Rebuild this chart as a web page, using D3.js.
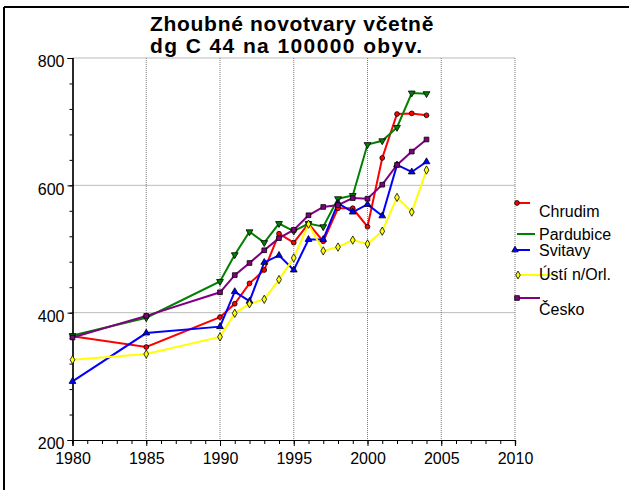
<!DOCTYPE html>
<html>
<head>
<meta charset="utf-8">
<script src="https://cdn.jsdelivr.net/npm/d3@7"></script>
<style>
  body { margin: 0; background: #fff; }
  text { font-family: "Liberation Sans", Arial, sans-serif; }
</style>
</head>
<body>
<div id="chart"></div>
<script>
const w = 629,
      h = 490;

const years = [1980, 1985, 1990, 1991, 1992, 1993, 1994, 1995, 1996, 1997, 1998, 1999, 2000, 2001, 2002, 2003, 2004];
const chrudim    = [363, 346, 393, 414, 446, 467, 524, 510, 540, 512, 564, 564, 535, 643, 712, 713, 710];
const pardubice  = [364, 392, 449, 491, 527, 510, 540, 528, 540, 535, 579, 584, 664, 670, 691, 745, 744];
const svitavy    = [292, 368, 378, 433, 418, 479, 490, 467, 515, 515, 572, 558, 570, 552, 632, 621, 637];
const usti       = [326, 335, 362, 399, 414, 421, 452, 486, 539, 497, 503, 514, 508, 528, 581, 558, 624];
const cesko      = [361, 395, 432, 459, 478, 498, 517, 530, 553, 566, 569, 580, 579, 601, 632, 653, 672];
const seriesNames = ['Chrudim', 'Pardubice', 'Svitavy', 'Ústí n/Orl.', 'Česko'];
const xTicks = [1980, 1985, 1990, 1995, 2000, 2005, 2010];
const yTicks = [200, 400, 600, 800];
const titleLines = ['Zhoubné novotvary včetně', 'dg C 44 na 100000 obyv.'];

const colors = ['#ff0000', '#008000', '#0000ff', '#ffff00', '#800080'];
const shapes = [d3.symbolCircle, 'down', d3.symbolTriangle, d3.symbolDiamond, d3.symbolSquare];
const allSeries = [chrudim, pardubice, svitavy, usti, cesko];

const svg = d3.select('#chart').append('svg')
    .attr('width', w)
    .attr('height', h);

// outer frame (only left and top edges show)
svg.append('line').attr('x1', 4).attr('x2', 629).attr('y1', 7).attr('y2', 7)
    .attr('stroke', '#000').attr('stroke-width', 2);
svg.append('line').attr('x1', 4).attr('x2', 4).attr('y1', 7).attr('y2', h)
    .attr('stroke', '#000').attr('stroke-width', 2);

const x = d3.scaleLinear().domain([1980, 2010]).range([72.5, 515]);
const y = d3.scaleLinear().domain([200, 800]).range([440, 58]);

// grid
const grid = svg.append('g').attr('stroke', '#777').attr('stroke-dasharray', '1,1').attr('stroke-width', 1);
grid.selectAll('line.gx')
    .data(xTicks.slice(1))
    .enter().append('line')
    .attr('x1', d => x(d)).attr('x2', d => x(d))
    .attr('y1', y(800)).attr('y2', y(200));
grid.selectAll('line.gy')
    .data(yTicks.slice(1))
    .enter().append('line')
    .attr('x1', x(1980)).attr('x2', x(2010))
    .attr('y1', d => y(d)).attr('y2', d => y(d));

// axes
const xAxis = d3.axisBottom(x).tickValues(xTicks).tickFormat(d3.format('d')).tickSize(6).tickPadding(7);
const xMinor = d3.axisBottom(x).tickValues(d3.range(1980, 2011)).tickFormat('').tickSize(4);
const yAxis = d3.axisLeft(y).tickValues(yTicks).tickSize(5).tickPadding(3);
const yMinor = d3.axisLeft(y).tickValues(d3.range(200, 801, 40)).tickFormat('').tickSize(3);

svg.append('g').attr('transform', `translate(0,${y(200)})`).call(xMinor);
const gx = svg.append('g').attr('transform', `translate(0,${y(200)})`).call(xAxis);
svg.append('g').attr('transform', `translate(${x(1980)},0)`).call(yMinor);
const gy = svg.append('g').attr('transform', `translate(${x(1980)},0)`).call(yAxis);

svg.selectAll('.domain').attr('stroke', '#000').attr('stroke-width', 1.2);
svg.selectAll('.tick line').attr('stroke', '#000');
gx.selectAll('text').attr('font-size', 16).attr('fill', '#000');
gy.selectAll('text').attr('font-size', 16).attr('fill', '#000').attr('dy', '0.55em');

// title
svg.append('text')
    .attr('x', 150).attr('y', 31)
    .attr('font-size', 21).attr('font-weight', 'bold')
    .selectAll('tspan')
    .data(titleLines)
    .enter().append('tspan')
    .attr('x', 150)
    .attr('dy', (d, i) => i === 0 ? 0 : 22)
    .attr('letter-spacing', (d, i) => i === 0 ? 0.7 : 1.4)
    .text(d => d);

const symbolPath = (shape, size) => {
    if (shape === 'down') return d3.symbol(d3.symbolTriangle, size)();
    return d3.symbol(shape, size)();
};

// series
const line = d3.line().x((d, i) => x(years[i])).y(d => y(d));
allSeries.forEach((vals, si) => {
    svg.append('path')
        .datum(vals)
        .attr('fill', 'none')
        .attr('stroke', colors[si])
        .attr('stroke-width', 2)
        .attr('d', line);
});
allSeries.forEach((vals, si) => {
    const shape = shapes[si];
    const size = shape === d3.symbolSquare ? 22 : (shape === d3.symbolCircle ? 18 : 20);
    svg.append('g').selectAll('path')
        .data(vals)
        .enter().append('path')
        .attr('d', symbolPath(shape, size))
        .attr('transform', (d, i) => `translate(${x(years[i])},${y(d)})` + (shape === 'down' ? ' rotate(180)' : ''))
        .attr('fill', colors[si])
        .attr('stroke', '#000')
        .attr('stroke-width', 0.8);
});

// legend (positions follow the reference's uneven layout)
const legendRows = [
    {ly: 203, x1: 515, x2: 530, ty: 217, marker: true},
    {ly: 234, x1: 517, x2: 535, ty: 240, marker: false},
    {ly: 250, x1: 513, x2: 530, ty: 256, marker: true},
    {ly: 275, x1: 516, x2: 555, ty: 280, marker: true},
    {ly: 298, x1: 515, x2: 540, ty: 315, marker: true}
];
const legend = svg.append('g');
legendRows.forEach((r, i) => {
    legend.append('line')
        .attr('x1', r.x1).attr('x2', r.x2).attr('y1', r.ly).attr('y2', r.ly)
        .attr('stroke', colors[i]).attr('stroke-width', 2);
    if (r.marker) {
        const shape = shapes[i];
        legend.append('path')
            .attr('d', symbolPath(shape, shape === d3.symbolSquare ? 22 : 18))
            .attr('transform', `translate(${r.x1 + 2},${r.ly})`)
            .attr('fill', colors[i]).attr('stroke', '#000').attr('stroke-width', 0.8);
    }
    legend.append('text')
        .attr('x', 539).attr('y', r.ty)
        .attr('font-size', 16)
        .text(seriesNames[i]);
});
</script>
</body>
</html>
